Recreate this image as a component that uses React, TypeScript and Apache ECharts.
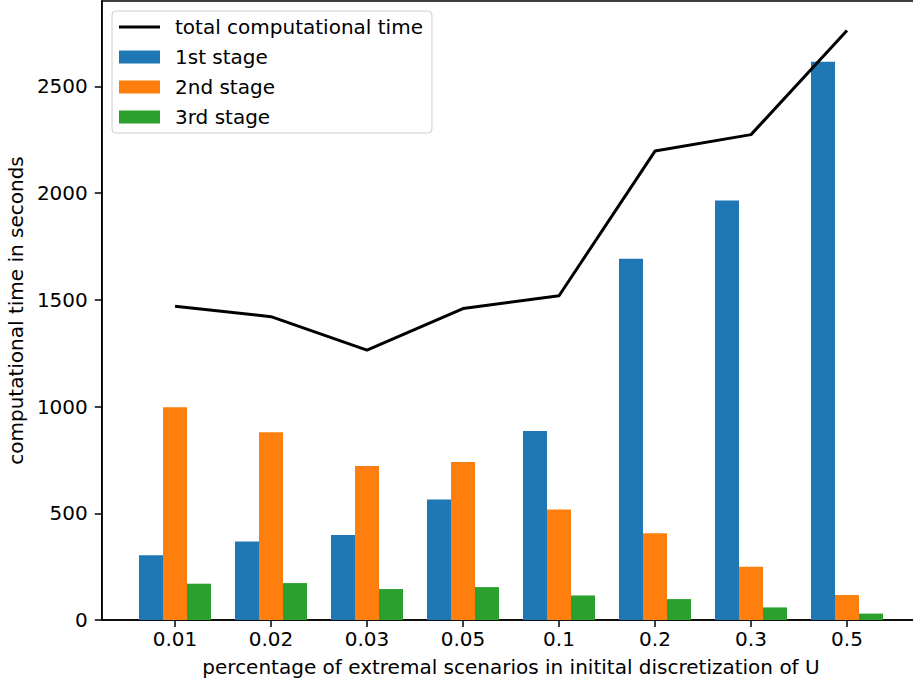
import React, { useEffect, useRef } from "react";
import * as echarts from "echarts";

const categories = ["0.01", "0.02", "0.03", "0.05", "0.1", "0.2", "0.3", "0.5"];
const stage1 = [303, 368, 398, 565, 886, 1693, 1965, 2615];
const stage2 = [997, 880, 721, 740, 518, 406, 250, 117];
const stage3 = [170, 173, 145, 154, 115, 98, 59, 30];
const total = [1470, 1421, 1264, 1459, 1519, 2197, 2274, 2762];
const yTicks = [0, 500, 1000, 1500, 2000, 2500];

const FONT = "DejaVu Sans";
const FS = 20;

export default function App() {
  const ref = useRef<HTMLDivElement>(null);
  useEffect(() => {
    if (!ref.current) return;
    const chart = echarts.init(ref.current, null, { renderer: "svg" });
    const idx = categories.map((_, i) => i);
    const toPts = (arr: number[]) => arr.map((v, i) => [i, v]);
    chart.setOption({
      animation: false,
      backgroundColor: "#ffffff",
      textStyle: { fontFamily: FONT },
      grid: {
        left: 101.8,
        top: 1,
        right: -7.2,
        bottom: 67,
        show: true,
        borderColor: "#000000",
        borderWidth: 1.5,
        containLabel: false,
        outerBoundsMode: "none",
      },
      legend: {
        orient: "vertical",
        left: 112,
        top: 11,
        padding: [6, 9, 6, 7],
        itemWidth: 41,
        itemHeight: 13,
        itemGap: 10,
        backgroundColor: "rgba(255,255,255,0.8)",
        borderColor: "#cccccc",
        borderWidth: 1,
        borderRadius: 4,
        textStyle: { fontFamily: FONT, fontSize: FS, color: "#000000", padding: [0, 0, 0, 10], lineHeight: 20 },
        data: [
          { name: "total computational time", icon: "path://M0,0 L41,0 L41,3 L0,3 Z", itemStyle: { color: "#000000" } },
          { name: "1st stage", icon: "rect" },
          { name: "2nd stage", icon: "rect" },
          { name: "3rd stage", icon: "rect" },
        ],
      },
      xAxis: {
        type: "value",
        min: -0.7625,
        max: 7.7625,
        splitLine: { show: false },
        axisLine: { show: true, onZero: false, lineStyle: { color: "#000000", width: 1.5 } },
        axisTick: {
          show: true,
          length: 7,
          lineStyle: { color: "#000000", width: 1.5 },
          customValues: idx,
        },
        axisLabel: {
          customValues: idx,
          formatter: (v: number) => categories[Math.round(v)] ?? "",
          fontFamily: FONT,
          fontSize: FS,
          color: "#000000",
          margin: 9,
        },
        name: "percentage of extremal scenarios in initital discretization of U",
        nameLocation: "middle",
        nameGap: 37,
        nameTextStyle: { fontFamily: FONT, fontSize: FS, color: "#000000" },
      },
      yAxis: {
        type: "value",
        min: 0,
        max: 2900,
        splitLine: { show: false },
        axisLine: { show: true, onZero: false, lineStyle: { color: "#000000", width: 1.5 } },
        axisTick: {
          show: true,
          length: 7,
          lineStyle: { color: "#000000", width: 1.5 },
          customValues: yTicks,
        },
        axisLabel: {
          customValues: yTicks,
          formatter: (v: number) => String(v),
          fontFamily: FONT,
          fontSize: FS,
          color: "#000000",
          margin: 14,
        },
        name: "computational time in seconds",
        nameLocation: "middle",
        nameGap: 66,
        nameTextStyle: { fontFamily: FONT, fontSize: FS, color: "#000000" },
      },
      series: [
        {
          name: "total computational time",
          type: "line",
          data: toPts(total),
          symbol: "none",
          showSymbol: false,
          lineStyle: { color: "#000000", width: 3 },
          itemStyle: { color: "#000000" },
          z: 5,
        },
        {
          name: "1st stage",
          type: "bar",
          data: toPts(stage1),
          barWidth: 24,
          barGap: "0%",
          itemStyle: { color: "#1f77b4" },
        },
        {
          name: "2nd stage",
          type: "bar",
          data: toPts(stage2),
          barWidth: 24,
          barGap: "0%",
          itemStyle: { color: "#ff7f0e" },
        },
        {
          name: "3rd stage",
          type: "bar",
          data: toPts(stage3),
          barWidth: 24,
          barGap: "0%",
          itemStyle: { color: "#2ca02c" },
        },
      ],
    });
    return () => chart.dispose();
  }, []);
  return (
    <div
      ref={ref}
      style={{ position: "absolute", left: 0, top: 0, width: 913, height: 687, overflow: "hidden" }}
    />
  );
}
